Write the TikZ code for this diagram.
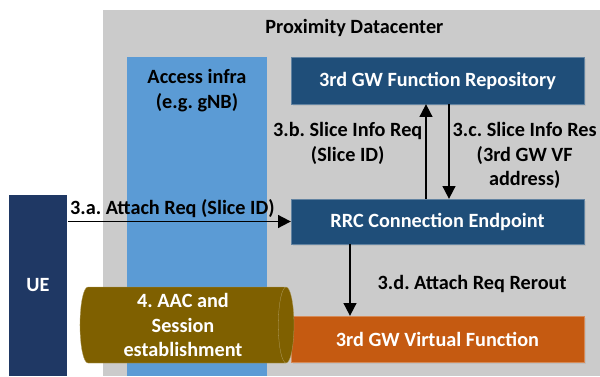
\documentclass[tikz,border=0pt]{standalone}
\usepackage{fontspec}
\setmainfont{Carlito}
\usetikzlibrary{arrows.meta,positioning,shapes.geometric,shadows}
\frenchspacing

\definecolor{dcgray}{HTML}{CBCBCB}
\definecolor{accblue}{HTML}{5B9BD5}
\definecolor{fnblue}{HTML}{1F4E79}
\definecolor{ueblue}{HTML}{1F3864}
\definecolor{vforange}{HTML}{C55A11}
\definecolor{aacolive}{HTML}{7F6000}

\begin{document}
\begin{tikzpicture}[->, >={Triangle[length=3.2mm,width=3.2mm]}, line width=1.3pt, font=\fontsize{14.4}{17.2}\selectfont\bfseries]
	\tikzstyle{fnbox}=[draw=fnblue!70!white, very thin, fill=fnblue, text=white, minimum width=7.325cm, drop shadow={opacity=0.15, shadow xshift=0.4mm, shadow yshift=-0.4mm}]
	\tikzstyle{msg}=[text=black, align=center, inner sep=2pt]
	\useasboundingbox (0,0) rectangle (15,9.4);

	\node[fill=dcgray, minimum width=12.425cm, minimum height=9.15cm, inner sep=0] (dc) at (8.7875,4.575) {};
	\node (title) at (8.86,8.7) {Proximity Datacenter};
	\node[fill=accblue, minimum width=3.5cm, minimum height=7.975cm, inner sep=0,
		label={[anchor=north, yshift=-2mm, align=center]north:{Access infra\\(e.g. gNB)}}] (acc) at (4.925,3.9875) {};

	\node[fnbox, minimum height=1.175cm] (repo) at (10.9375,7.3875) {3rd GW Function Repository};
	\node[fnbox, minimum height=1.125cm] (rrc) at (10.9375,3.8625) {RRC Connection Endpoint};
	\node[fnbox, fill=vforange, draw=vforange!70!white, minimum height=1.15cm] (vf) at (10.9375,0.925) {3rd GW Virtual Function};

	\node[fill=ueblue, text=white, minimum width=1.45cm, minimum height=4.525cm, inner sep=0] (ue) at (0.95,2.2625) {UE};
	\node[cylinder, shape aspect=0.25, fill=aacolive, draw=aacolive!60!white, very thin, text=white, align=center,
		minimum width=1.9cm, minimum height=5.35cm, inner sep=0] (aac) at (4.575,1.275) {4. AAC and\\Session\\establishment};

	\path
	(ue.east |- rrc.west) edge node[msg, above, xshift=-1.75mm]{3.a. Attach Req (Slice ID)} (rrc.west)

	([xshift=-2.875mm]rrc.north) edge node[msg, left, yshift=2mm]{3.b. Slice Info Req\\(Slice ID)} ([xshift=-2.875mm]repo.south)
	([xshift=2.875mm]repo.south) edge node[msg, right, yshift=-1mm]{3.c. Slice Info Res\\(3rd GW VF\\address)} ([xshift=2.875mm]rrc.north)

	([xshift=-2.1875cm]rrc.south) edge node[msg, right, xshift=6mm, yshift=-1mm]{3.d. Attach Req Rerout} ([xshift=-2.1875cm]vf.north);
\end{tikzpicture}
\end{document}
